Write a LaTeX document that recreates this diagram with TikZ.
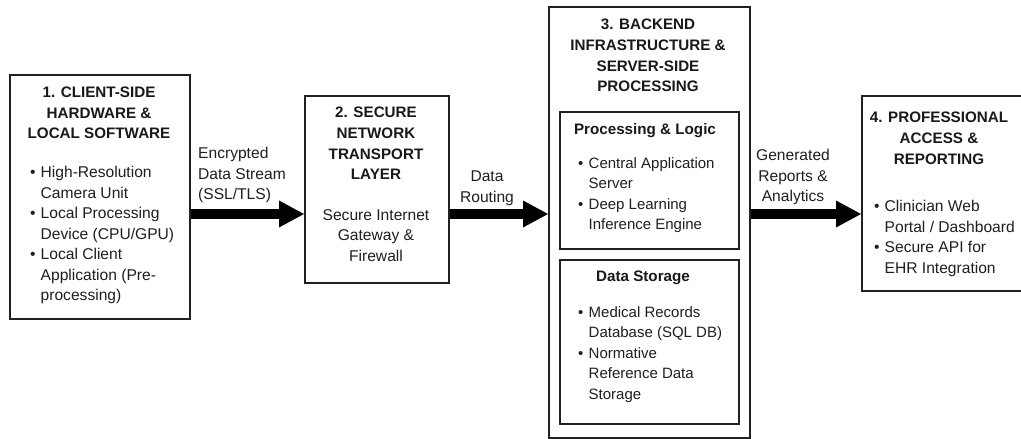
\documentclass[tikz,border=0pt]{standalone}
\usepackage{fontspec}
\setmainfont{Liberation Sans}
\usetikzlibrary{arrows.meta}
\newcommand\bl[1]{\makebox[10.5pt][l]{•}#1}
\newcommand\cl[1]{\hspace*{10.5pt}#1}
\begin{document}
\begin{tikzpicture}[x=1pt,y=-1pt,
  box/.style={draw=black!87, line width=2pt, inner sep=0pt, anchor=north west},
  ttl/.style={font=\fontsize{15.2}{20.7}\selectfont\bfseries, align=center, anchor=north, inner sep=0pt, text=black!90},
  body/.style={font=\fontsize{15.6}{20.5}\selectfont, align=left, anchor=north west, inner sep=0pt, text=black!88},
  inbody/.style={body, font=\fontsize{15}{20.5}\selectfont},
  flow/.style={line width=10pt, draw=black, -{Triangle[length=25pt,width=27pt,line width=0pt]}}]
\useasboundingbox (0,0) rectangle (1021,439);
\clip (0,0) rectangle (1021,439);
\fill[white] (0,0) rectangle (1021,439);
% boxes
\node[box, minimum width=180pt, minimum height=244pt] (b1) at (9,74) {};
\node[box, minimum width=144pt, minimum height=187pt] (b2) at (304,95) {};
\node[box, minimum width=201pt, minimum height=431pt] (b3) at (548,6) {};
\node[box, minimum width=179pt, minimum height=137pt] (p1) at (559,111) {};
\node[box, minimum width=179pt, minimum height=164pt] (p2) at (559,259) {};
\node[box, minimum width=200pt, minimum height=195pt] (b4) at (861,95) {};
% arrows
\coordinate (ay) at (0,214);
\draw[flow] (b1.east |- ay) -- (b2.west |- ay);
\draw[flow] (b2.east |- ay) -- (b3.west |- ay);
\draw[flow] (b3.east |- ay) -- (b4.west |- ay);
% texts
\node[ttl] (t1) at (99,86.5) {1. CLIENT-SIDE\\HARDWARE \&\\LOCAL SOFTWARE};
\node[body] (l1) at (30,166) {\bl{High-Resolution}\\\cl{Camera Unit}\\\bl{Local Processing}\\\cl{Device (CPU/GPU)}\\\bl{Local Client}\\\cl{Application (Pre-}\\\cl{processing)}};
\node[ttl] (t2) at (376,107) {2. SECURE\\NETWORK\\TRANSPORT\\LAYER};
\node[body, align=center, anchor=north] (l2) at (376,209) {Secure Internet\\Gateway \&\\Firewall};
\node[ttl] (t3) at (648,19) {3. BACKEND\\INFRASTRUCTURE \&\\SERVER-SIDE\\PROCESSING};
\node[ttl] (t31) at (645,123) {Processing \& Logic};
\node[inbody] (l31) at (578,157) {\bl{Central Application}\\\cl{Server}\\\bl{Deep Learning}\\\cl{Inference Engine}};
\node[ttl] (t32) at (643,271) {Data Storage};
\node[inbody] (l32) at (578,306) {\bl{Medical Records}\\\cl{Database (SQL DB)}\\\bl{Normative}\\\cl{Reference Data}\\\cl{Storage}};
\node[ttl] (t4) at (939,112) {4. PROFESSIONAL\\ACCESS \&\\REPORTING};
\node[body] (l4) at (874,200) {\bl{Clinician Web}\\\cl{Portal / Dashboard}\\\bl{Secure API for}\\\cl{EHR Integration}};
% connector labels
\node[body] (a1) at (198,147) {Encrypted\\Data Stream\\(SSL/TLS)};
\node[body, align=center, anchor=north] (a2) at (487,171) {Data\\Routing};
\node[body, align=center, anchor=north] (a3) at (793,149) {Generated\\Reports \&\\Analytics};
\end{tikzpicture}
\end{document}
